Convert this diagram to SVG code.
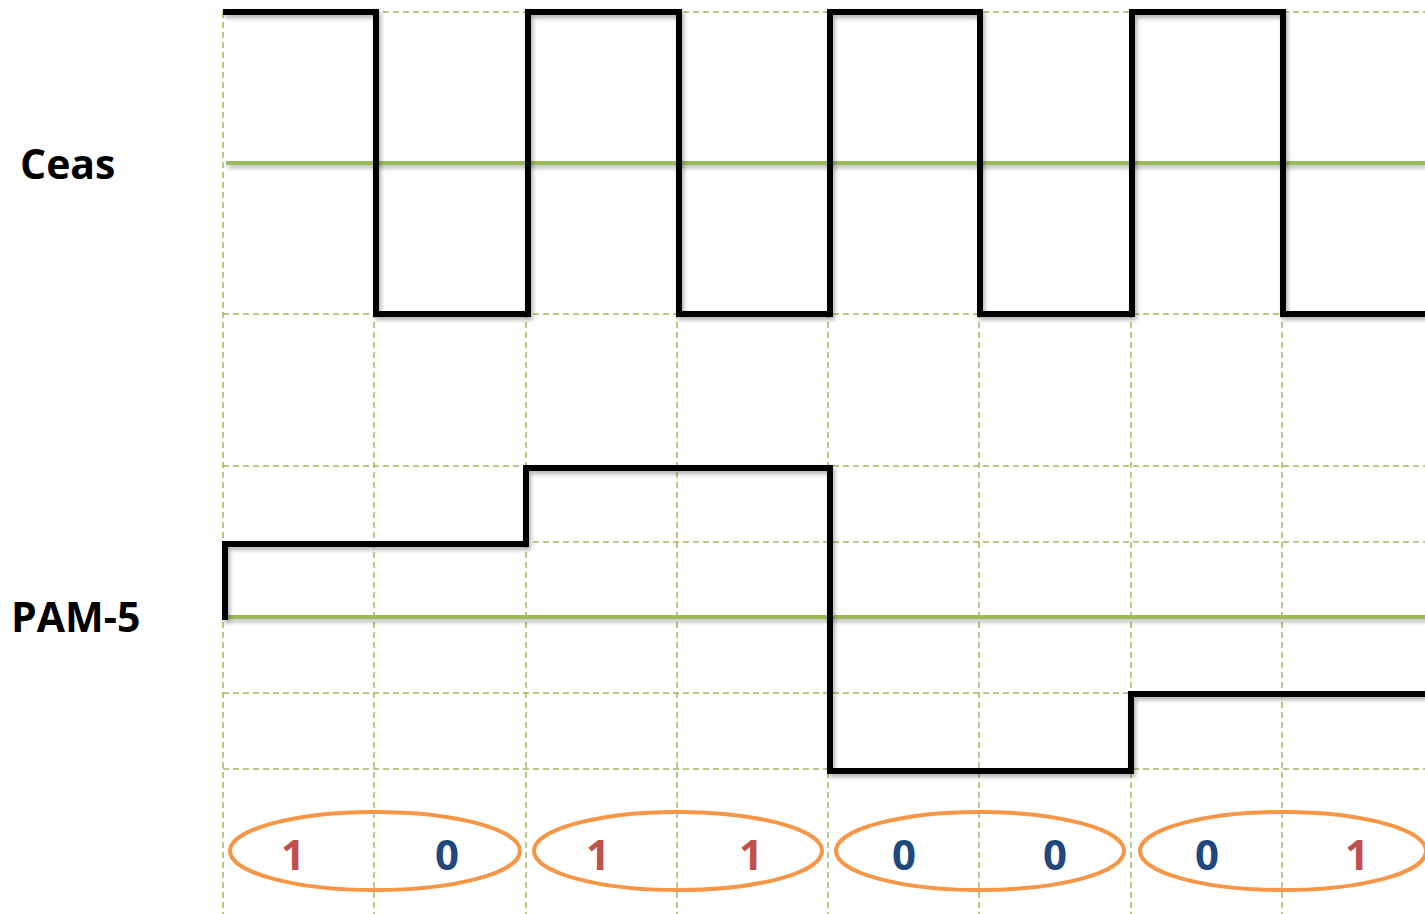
<svg xmlns="http://www.w3.org/2000/svg" width="1425" height="914" viewBox="0 0 1425 914">
<defs>
<filter id="sh" x="-5%" y="-5%" width="110%" height="110%">
<feDropShadow dx="2" dy="3" stdDeviation="2" flood-color="#000" flood-opacity="0.3"/>
</filter>
</defs>
<style>
.grid{stroke:#9bbb59;stroke-width:1.5;stroke-dasharray:6 4;fill:none}
.axis{stroke:#9bbb59;stroke-width:4;fill:none}
.wave{stroke:#000;stroke-width:6;fill:none;stroke-linejoin:miter;stroke-linecap:square}
.ell{stroke:#f79646;stroke-width:4;fill:none}
.lbl{font-family:"Open Sans","Liberation Sans",sans-serif;font-weight:bold;font-size:41px;fill:#000}
.dig{font-family:"Open Sans","Liberation Sans",sans-serif;font-weight:bold;font-size:42px;text-anchor:middle}
.r{fill:#c0504d}
.b{fill:#1f497d}
</style>
<rect width="1425" height="914" fill="#fff"/>
<g id="grid">
<path class="grid" d="M223,12V914M374,12V914M526,12V914M677,12V914M828,12V914M979,12V914M1131,12V914M1282,12V914"/>
<path class="grid" d="M223,12H1425M223,314H1425M223,466H1425M223,542H1425M223,693H1425M223,769H1425"/>
</g>
<g id="axes" filter="url(#sh)">
<path class="axis" d="M226,163H1425"/>
<path class="axis" d="M226,617H1425"/>
</g>
<g id="labels">
<text id="ceas" class="lbl" x="20" y="179">Ceas</text>
<text id="pam5" class="lbl" x="11" y="632">PAM-5</text>
</g>
<g id="connectors" filter="url(#sh)">
<path id="clock" class="wave" d="M226,12H376V314H528V12H679V314H830V12H980V314H1132V12H1283V314H1430"/>
<path id="pam" class="wave" d="M225,617V544H526V468H830V771H1131V694H1430"/>
</g>
<g id="bits">
<g id="e1"><ellipse class="ell" cx="375" cy="851" rx="145" ry="39"/><text class="dig r" x="293" y="870">1</text><text class="dig b" x="447" y="870">0</text></g>
<g id="e2"><ellipse class="ell" cx="678" cy="851" rx="144" ry="39"/><text class="dig r" x="598" y="870">1</text><text class="dig r" x="751" y="870">1</text></g>
<g id="e3"><ellipse class="ell" cx="980" cy="851" rx="144" ry="39"/><text class="dig b" x="904" y="870">0</text><text class="dig b" x="1055" y="870">0</text></g>
<g id="e4"><ellipse class="ell" cx="1283" cy="851" rx="143" ry="39"/><text class="dig b" x="1207" y="870">0</text><text class="dig r" x="1357" y="870">1</text></g>
</g>
</svg>
